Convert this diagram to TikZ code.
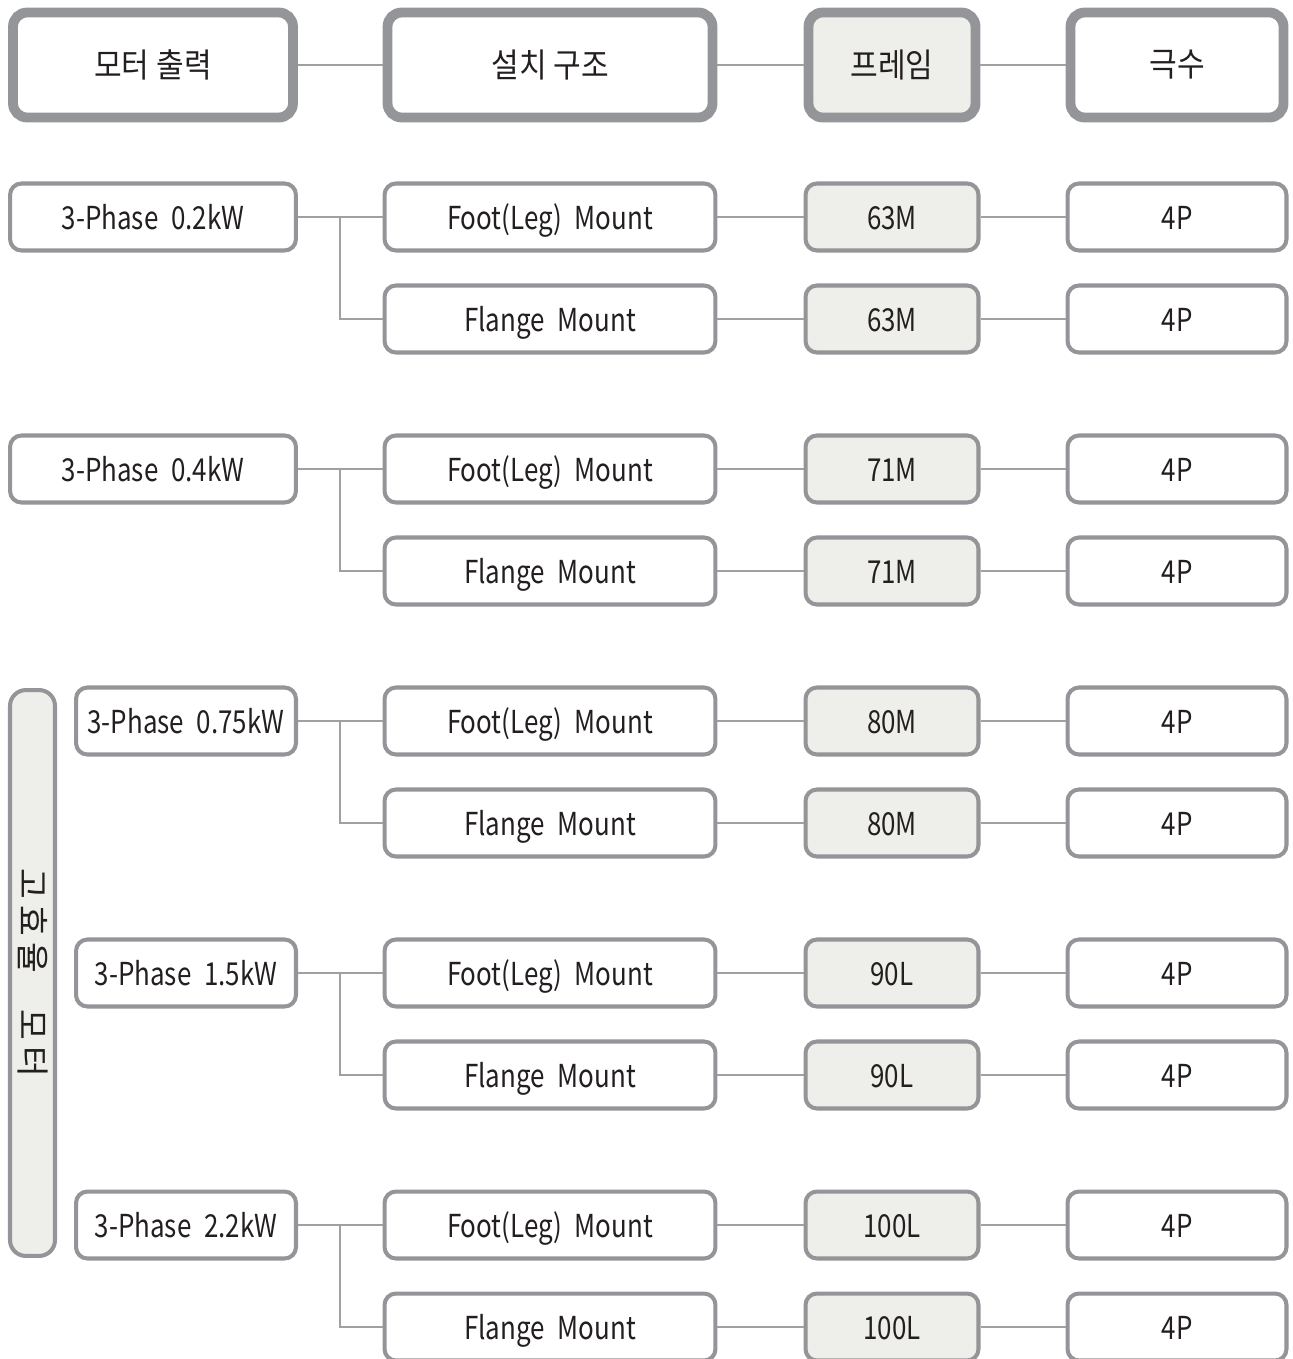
\documentclass[tikz,border=0pt]{standalone}
\usepackage{fontspec}
\setmainfont{Noto Sans CJK KR}[FakeStretch=0.82, WordSpace=2.2]
\newfontfamily\headfont{Noto Sans CJK KR}[FakeStretch=0.9]
\newfontfamily\vlabelfont{Noto Sans CJK KR}[LetterSpace=18]
\usetikzlibrary{calc}
\definecolor{framegray}{HTML}{939598}
\definecolor{cellfill}{HTML}{EEEEEA}
\definecolor{linegray}{HTML}{A0A0A0}
\definecolor{inkblack}{HTML}{231F20}
\begin{document}
\begin{tikzpicture}[
			x=0.02cm, y=-0.02cm,
			every node/.style={font=\fontsize{18}{20}\selectfont, text=inkblack},
			head/.style={draw=framegray, fill=white, line width=5.6pt, rounded corners=8pt, minimum height=2.1cm, font=\headfont\fontsize{19}{21}\selectfont},
			cell/.style={draw=framegray, fill=white, line width=2.3pt, rounded corners=6.5pt, minimum height=1.34cm, text height=18.6pt, text depth=4pt},
			shade/.style={fill=cellfill},
			link/.style={draw=linegray, line width=1.1pt}
			]
			\useasboundingbox (0,0) rectangle (1292,1359);
			
			% Header
			\node (h_out) [head, minimum width=5.6cm] at (153,65) {모터 출력};
			\node (h_mount) [head, minimum width=6.5cm] at (550,65) {설치 구조};
			\node (h_frame) [head, shade, minimum width=3.34cm] at (892,65) {프레임};
			\node (h_pole) [head, minimum width=4.26cm] at (1177,65) {극수};
			\draw[link] (h_out.east) -- (h_mount.west);
			\draw[link] (h_mount.east) -- (h_frame.west);
			\draw[link] (h_frame.east) -- (h_pole.west);
			
			% High efficiency label
			\node (hi_eff) [cell, shade, rotate=-90, rounded corners=9pt, minimum width=11.32cm, minimum height=0.9cm, text height=, text depth=] at (32.5,973) {\vlabelfont\fontsize{19}{21}\selectfont 고효율\hspace{1.1em}모터};
			
			% 3-Phase 0.2kW
			\node (out_a) [cell, minimum width=5.72cm] at (153,217) {3-Phase 0.2kW};
			\node (foot_a) [cell, minimum width=6.62cm] at (550,217) {Foot(Leg) Mount};
			\node (flange_a) [cell, minimum width=6.62cm] at (550,319) {Flange Mount};
			\node (frame_a1) [cell, shade, minimum width=3.46cm] at (892,217) {63M};
			\node (frame_a2) [cell, shade, minimum width=3.46cm] at (892,319) {63M};
			\node (pole_a1) [cell, minimum width=4.38cm] at (1177,217) {4P};
			\node (pole_a2) [cell, minimum width=4.38cm] at (1177,319) {4P};
			\coordinate (br_a) at ($(out_a.east)!0.5!(foot_a.west)$);
			\draw[link] (out_a.east) -- (foot_a.west);
			\draw[link] (br_a) |- (flange_a.west);
			\draw[link] (foot_a.east) -- (frame_a1.west);
			\draw[link] (flange_a.east) -- (frame_a2.west);
			\draw[link] (frame_a1.east) -- (pole_a1.west);
			\draw[link] (frame_a2.east) -- (pole_a2.west);
			
			% 3-Phase 0.4kW
			\node (out_b) [cell, minimum width=5.72cm] at (153,469) {3-Phase 0.4kW};
			\node (foot_b) [cell, minimum width=6.62cm] at (550,469) {Foot(Leg) Mount};
			\node (flange_b) [cell, minimum width=6.62cm] at (550,571) {Flange Mount};
			\node (frame_b1) [cell, shade, minimum width=3.46cm] at (892,469) {71M};
			\node (frame_b2) [cell, shade, minimum width=3.46cm] at (892,571) {71M};
			\node (pole_b1) [cell, minimum width=4.38cm] at (1177,469) {4P};
			\node (pole_b2) [cell, minimum width=4.38cm] at (1177,571) {4P};
			\coordinate (br_b) at ($(out_b.east)!0.5!(foot_b.west)$);
			\draw[link] (out_b.east) -- (foot_b.west);
			\draw[link] (br_b) |- (flange_b.west);
			\draw[link] (foot_b.east) -- (frame_b1.west);
			\draw[link] (flange_b.east) -- (frame_b2.west);
			\draw[link] (frame_b1.east) -- (pole_b1.west);
			\draw[link] (frame_b2.east) -- (pole_b2.west);
			
			% 3-Phase 0.75kW
			\node (out_c) [cell, minimum width=4.4cm] at (186,721) {3-Phase 0.75kW};
			\node (foot_c) [cell, minimum width=6.62cm] at (550,721) {Foot(Leg) Mount};
			\node (flange_c) [cell, minimum width=6.62cm] at (550,823) {Flange Mount};
			\node (frame_c1) [cell, shade, minimum width=3.46cm] at (892,721) {80M};
			\node (frame_c2) [cell, shade, minimum width=3.46cm] at (892,823) {80M};
			\node (pole_c1) [cell, minimum width=4.38cm] at (1177,721) {4P};
			\node (pole_c2) [cell, minimum width=4.38cm] at (1177,823) {4P};
			\coordinate (br_c) at ($(out_c.east)!0.5!(foot_c.west)$);
			\draw[link] (out_c.east) -- (foot_c.west);
			\draw[link] (br_c) |- (flange_c.west);
			\draw[link] (foot_c.east) -- (frame_c1.west);
			\draw[link] (flange_c.east) -- (frame_c2.west);
			\draw[link] (frame_c1.east) -- (pole_c1.west);
			\draw[link] (frame_c2.east) -- (pole_c2.west);
			
			% 3-Phase 1.5kW
			\node (out_d) [cell, minimum width=4.4cm] at (186,973) {3-Phase 1.5kW};
			\node (foot_d) [cell, minimum width=6.62cm] at (550,973) {Foot(Leg) Mount};
			\node (flange_d) [cell, minimum width=6.62cm] at (550,1075) {Flange Mount};
			\node (frame_d1) [cell, shade, minimum width=3.46cm] at (892,973) {90L};
			\node (frame_d2) [cell, shade, minimum width=3.46cm] at (892,1075) {90L};
			\node (pole_d1) [cell, minimum width=4.38cm] at (1177,973) {4P};
			\node (pole_d2) [cell, minimum width=4.38cm] at (1177,1075) {4P};
			\coordinate (br_d) at ($(out_d.east)!0.5!(foot_d.west)$);
			\draw[link] (out_d.east) -- (foot_d.west);
			\draw[link] (br_d) |- (flange_d.west);
			\draw[link] (foot_d.east) -- (frame_d1.west);
			\draw[link] (flange_d.east) -- (frame_d2.west);
			\draw[link] (frame_d1.east) -- (pole_d1.west);
			\draw[link] (frame_d2.east) -- (pole_d2.west);
			
			% 3-Phase 2.2kW
			\node (out_e) [cell, minimum width=4.4cm] at (186,1225) {3-Phase 2.2kW};
			\node (foot_e) [cell, minimum width=6.62cm] at (550,1225) {Foot(Leg) Mount};
			\node (flange_e) [cell, minimum width=6.62cm] at (550,1327) {Flange Mount};
			\node (frame_e1) [cell, shade, minimum width=3.46cm] at (892,1225) {100L};
			\node (frame_e2) [cell, shade, minimum width=3.46cm] at (892,1327) {100L};
			\node (pole_e1) [cell, minimum width=4.38cm] at (1177,1225) {4P};
			\node (pole_e2) [cell, minimum width=4.38cm] at (1177,1327) {4P};
			\coordinate (br_e) at ($(out_e.east)!0.5!(foot_e.west)$);
			\draw[link] (out_e.east) -- (foot_e.west);
			\draw[link] (br_e) |- (flange_e.west);
			\draw[link] (foot_e.east) -- (frame_e1.west);
			\draw[link] (flange_e.east) -- (frame_e2.west);
			\draw[link] (frame_e1.east) -- (pole_e1.west);
			\draw[link] (frame_e2.east) -- (pole_e2.west);
		\end{tikzpicture}
\end{document}
